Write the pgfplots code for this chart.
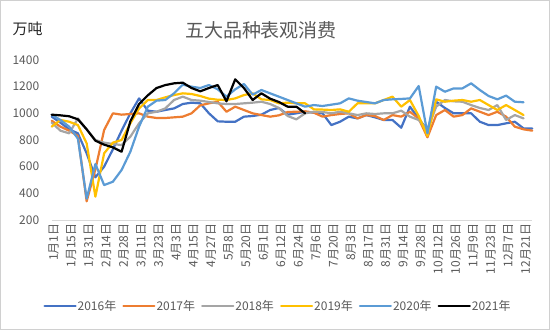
\documentclass[border=0pt]{standalone}
\usepackage{fontspec}
\setmainfont{Noto Sans CJK SC}
\usepackage{pgfplots}
\usepackage{pgfplotstable}
\pgfplotsset{compat=1.18}
\definecolor{cA}{HTML}{4472C4}
\definecolor{cB}{HTML}{ED7D31}
\definecolor{cC}{HTML}{A5A5A5}
\definecolor{cD}{HTML}{FFC000}
\definecolor{cE}{HTML}{5B9BD5}
\definecolor{cF}{HTML}{000000}
\definecolor{txtgray}{HTML}{595959}
\definecolor{axisgray}{HTML}{D9D9D9}
\definecolor{framegray}{HTML}{D0D0D0}

\pgfplotstableread{
i  y16  y17  y18  y19  y20  y21
0  975  945  930  900  990  990
1  930  900  870  950  950  985
2  880  870  850  937  900  978
3  850  830  962  912  810  955
4  700  340  880  775  360  880
5  520  580  800  375  620  795
6  600  875  780  700  462  765
7  730  1000 770  780  487  745
8  870  990  762  800  575  712
9  1000 995  825  925  712  940
10 1112 1000 925  1037 900  1070
11 1020 975  1000 1100 1050 1135
12 1012 965  1012 1100 1095 1190
13 1025 965  1037 1120 1100 1212
14 1037 970  1100 1137 1150 1225
15 1070 975  1125 1150 1215 1230
16 1080 1000 1100 1145 1200 1190
17 1075 1060 1095 1130 1190 1165
18 1000 1075 1085 1110 1212 1190
19 940  1087 1075 1102 1180 1212
20 937  1012 1070 1100 1125 1090
21 937  1050 1070 1112 1180 1255
22 975  1025 1075 1137 1220 1190
23 980  1000 1080 1150 1140 1100
24 990  987  1087 1105 1175 1150
25 1025 975  1070 1100 1150 1110
26 1040 985  1040 1075 1125 1085
27 990  1010 980  1080 1100 1050
28 1000 1012 955  1075 1075 1050
29 1012 1015 1000 1075 1050 1000
30 1005 1005 1012 1030 1062 nan
31 1000 975  1010 1028 1055 nan
32 912  987  1000 1025 1065 nan
33 937  995  1012 1030 1075 nan
34 975  1000 1000 1012 1112 nan
35 962  962  987  1075 1095 nan
36 987  987  1000 1075 1085 nan
37 970  980  995  1075 1075 nan
38 950  950  1000 1100 1100 nan
39 950  987  1000 1125 1105 nan
40 892  975  1020 1050 1108 nan
41 1050 1012 975  1100 1112 nan
42 960  960  950  980  1205 nan
43 875  820  875  830  850  nan
44 1087 987  1050 1105 1200 nan
45 1040 1025 1100 1087 1162 nan
46 1000 975  1090 1095 1187 nan
47 1000 987  1087 1100 1187 nan
48 1000 1037 1062 1087 1225 nan
49 937  1012 1040 1100 1175 nan
50 912  987  1025 1062 1130 nan
51 912  1012 1062 1025 1105 nan
52 925  975  950  1062 1133 nan
53 937  900  987  1025 1087 nan
54 887  880  962  987  1083 nan
55 887  870  nan  nan  nan  nan
}\datatable

\begin{document}
\begin{tikzpicture}
\useasboundingbox (0,0) rectangle (550pt,330pt);
\draw[framegray, line width=0.8pt] (0.4pt,0.4pt) rectangle (549.6pt,329.6pt);
\node[font=\fontsize{19}{22}\selectfont, text=txtgray] at (261pt,300pt) {五大品种表观消费};
\node[font=\fontsize{15}{18}\selectfont, text=black!85] at (27.7pt,300.7pt) {万吨};
\begin{axis}[
  at={(51.7pt,110pt)}, anchor=south west,
  scale only axis, width=480.6pt, height=160pt,
  xmin=0, xmax=55, ymin=200, ymax=1400,
  axis x line*=bottom, axis y line*=left,
  y axis line style={draw=none},
  x axis line style={draw=axisgray, line width=0.8pt, -},
  major tick length=0pt,
  xtick={0,2,...,54},
  xticklabels={1月1日,1月15日,1月31日,2月14日,2月28日,3月11日,3月23日,4月3日,4月15日,4月27日,5月8日,5月20日,6月1日,6月12日,6月24日,7月6日,7月20日,8月3日,8月17日,8月31日,9月14日,9月28日,10月12日,10月26日,11月9日,11月23日,12月7日,12月21日},
  xticklabel style={rotate=90, anchor=east, font=\fontsize{12}{14}\selectfont, text=txtgray, yshift=-2pt},
  ytick={200,400,...,1400},
  yticklabel style={font=\fontsize{12}{14}\selectfont, text=txtgray, xshift=-9pt},
  /pgf/number format/1000 sep={},
  /pgf/number format/assume math mode=true,
  clip=false,
  legend columns=6,
  legend cell align=left,
  legend style={at={(0.4698,-0.5356)}, anchor=center, draw=none, fill=none,
    font=\fontsize{12}{14}\selectfont, text=txtgray,
    /tikz/every even column/.append style={column sep=5pt},
    nodes={inner xsep=1pt, inner ysep=1pt}},
  legend image code/.code={\draw[#1] (0pt,0pt) -- (31pt,0pt);},
  every axis plot/.append style={line width=2.2pt, line join=round, line cap=round, no markers},
]
\addplot[cA] table[x=i,y=y16]{\datatable};
\addlegendentry{2016年}
\addplot[cB] table[x=i,y=y17]{\datatable};
\addlegendentry{2017年}
\addplot[cC] table[x=i,y=y18]{\datatable};
\addlegendentry{2018年}
\addplot[cD] table[x=i,y=y19]{\datatable};
\addlegendentry{2019年}
\addplot[cE] table[x=i,y=y20]{\datatable};
\addlegendentry{2020年}
\addplot[cF] table[x=i,y=y21]{\datatable};
\addlegendentry{2021年}
\end{axis}
\end{tikzpicture}
\end{document}
